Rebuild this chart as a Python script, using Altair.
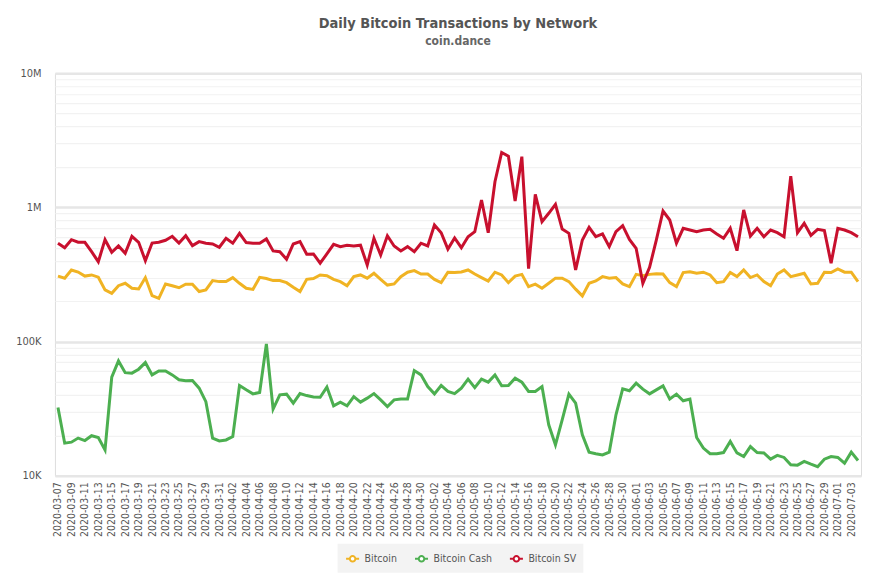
import altair as alt
import pandas as pd

dates = [d.strftime("%Y-%m-%d") for d in pd.date_range("2020-03-07", "2020-07-04", freq="D")]

bitcoin_k = [308, 297, 342, 330, 308, 314, 302, 243, 229, 261, 272, 250, 247, 300, 220, 210, 269, 261, 252, 268,
             268, 236, 243, 285, 280, 280, 300, 272, 250, 245, 301, 295, 285, 285, 275, 254, 236, 291, 295, 314,
             310, 291, 280, 261, 305, 314, 297, 323, 291, 264, 269, 305, 329, 338, 319, 319, 291, 275, 329, 328,
             330, 342, 319, 300, 283, 329, 314, 275, 308, 317, 257, 268, 250, 272, 297, 297, 280, 246, 219, 272,
             283, 305, 297, 300, 269, 257, 317, 310, 317, 320, 319, 275, 257, 327, 332, 323, 329, 314, 275, 280,
             327, 305, 342, 300, 314, 280, 261, 319, 342, 305, 314, 323, 269, 272, 329, 327, 348, 329, 329, 280]

bitcoin_cash_k = [32.3, 17.5, 17.8, 19.1, 18.3, 19.9, 19.3, 15.6, 54.3, 71.8, 58.7, 58.2, 62.3, 69.8, 56.5, 60.5,
                  60.5, 56.5, 51.9, 51.0, 51.3, 45.0, 35.7, 19.1, 18.2, 18.5, 19.6, 47.1, 43.7, 40.8, 41.8, 96.0,
                  31.4, 40.1, 40.6, 34.8, 41.0, 39.6, 38.7, 38.5, 45.8, 33.2, 35.4, 33.2, 38.9, 35.4, 37.9, 41.0,
                  36.8, 32.8, 36.8, 37.3, 37.3, 60.8, 56.5, 46.2, 40.8, 47.1, 42.5, 41.0, 45.0, 52.5, 45.4, 52.5,
                  49.9, 56.5, 46.9, 47.1, 53.4, 49.9, 42.5, 42.5, 46.2, 24.0, 17.0, 26.1, 40.6, 34.8, 20.2, 15.0,
                  14.6, 14.3, 15.0, 28.5, 44.4, 43.0, 49.0, 44.2, 40.8, 43.7, 46.8, 37.3, 40.6, 36.2, 37.3, 19.3,
                  16.1, 14.6, 14.6, 14.9, 18.0, 14.8, 13.9, 16.5, 14.9, 14.8, 13.3, 14.2, 13.7, 12.1, 12.0, 12.8,
                  12.2, 11.7, 13.3, 13.9, 13.7, 12.4, 15.0, 13.0]

bitcoin_sv_k = [541, 501, 575, 550, 550, 468, 394, 575, 463, 516, 455, 609, 550, 401, 543, 550, 569, 609, 543, 615,
                519, 556, 541, 534, 505, 589, 541, 641, 547, 541, 541, 582, 474, 468, 411, 534, 556, 448, 450, 384,
                450, 531, 510, 523, 516, 523, 372, 589, 442, 615, 516, 474, 510, 468, 541, 516, 740, 648, 489, 592,
                501, 605, 659, 1135, 648, 1555, 2570, 2410, 1116, 2390, 350, 1250, 783, 904, 1054, 690, 641, 342, 572, 711,
                605, 634, 510, 659, 731, 578, 496, 272, 358, 570, 940, 806, 541, 699, 679, 659, 679, 687, 634, 589,
                699, 476, 957, 612, 699, 605, 679, 648, 605, 1710, 648, 762, 620, 687, 673, 384, 699, 679, 648, 605]

series_names = ["Bitcoin", "Bitcoin Cash", "Bitcoin SV"]
series_colors = ["#F0B323", "#4CAF50", "#C8102E"]

rows = []
for name, vals in zip(series_names, [bitcoin_k, bitcoin_cash_k, bitcoin_sv_k]):
    for d, v in zip(dates, vals):
        rows.append({"date": d, "network": name, "tx": v * 1000})
df = pd.DataFrame(rows)

font = "DejaVu Sans Condensed, Roboto Condensed, DejaVu Sans, sans-serif"

ticks = []
for dec in [10000, 100000, 1000000]:
    for m in range(1, 10):
        ticks.append(dec * m)
ticks.append(10000000)

legend_symbol = "M-1,0H-0.42M0.42,0H1M0.42,0A0.42,0.42,0,1,1,-0.42,0A0.42,0.42,0,1,1,0.42,0Z"

chart = alt.Chart(df).mark_line(strokeWidth=3, interpolate="linear").encode(
    x=alt.X("date:O", sort=dates, title=None,
            scale=alt.Scale(type="point", padding=0.45),
            axis=alt.Axis(values=dates[::2], labelAngle=-90, labelFontSize=10.5, labelColor="#555555",
                          labelFont=font, ticks=False, domain=False, grid=False, labelPadding=6)),
    y=alt.Y("tx:Q", title=None,
            scale=alt.Scale(type="log", domain=[10000, 10000000], nice=False),
            axis=alt.Axis(values=ticks, ticks=False, domain=False,
                          labelExpr="datum.value == 10000 ? '10K' : datum.value == 100000 ? '100K' : datum.value == 1000000 ? '1M' : datum.value == 10000000 ? '10M' : ''",
                          labelFontSize=11, labelColor="#555555", labelFont=font, labelPadding=14,
                          gridColor={"condition": {"test": "indexof([10000,100000,1000000,10000000], datum.value) >= 0", "value": "#e6e6e6"}, "value": "#f2f2f2"},
                          gridWidth={"condition": {"test": "indexof([10000,100000,1000000,10000000], datum.value) >= 0", "value": 2.5}, "value": 1.2})),
    color=alt.Color("network:N",
                    scale=alt.Scale(domain=series_names, range=series_colors),
                    legend=alt.Legend(title=None, orient="none", legendX=283, legendY=471,
                                      direction="horizontal",
                                      symbolType=legend_symbol, symbolSize=170, symbolStrokeWidth=2,
                                      symbolFillColor="white",
                                      labelFontSize=10.5, labelColor="#555555", labelFont=font,
                                      fillColor="#f3f3f3", padding=7, columnPadding=13)),
).properties(
    width=807,
    height=403,
    title=alt.TitleParams(text="Daily Bitcoin Transactions by Network", subtitle="coin.dance",
                          anchor="middle", fontSize=14.5, fontWeight="bold", color="#555555", font=font,
                          subtitleFontSize=12, subtitleFontWeight="bold", subtitleColor="#666666",
                          subtitleFont=font, subtitlePadding=5, offset=19),
    autosize=alt.AutoSizeParams(type="none"),
    padding={"left": 47, "top": 65, "right": 8, "bottom": 100},
).configure_view(stroke=None).configure(background="white")

chart.save("out.html", embed_options={"renderer": "svg", "actions": False})
